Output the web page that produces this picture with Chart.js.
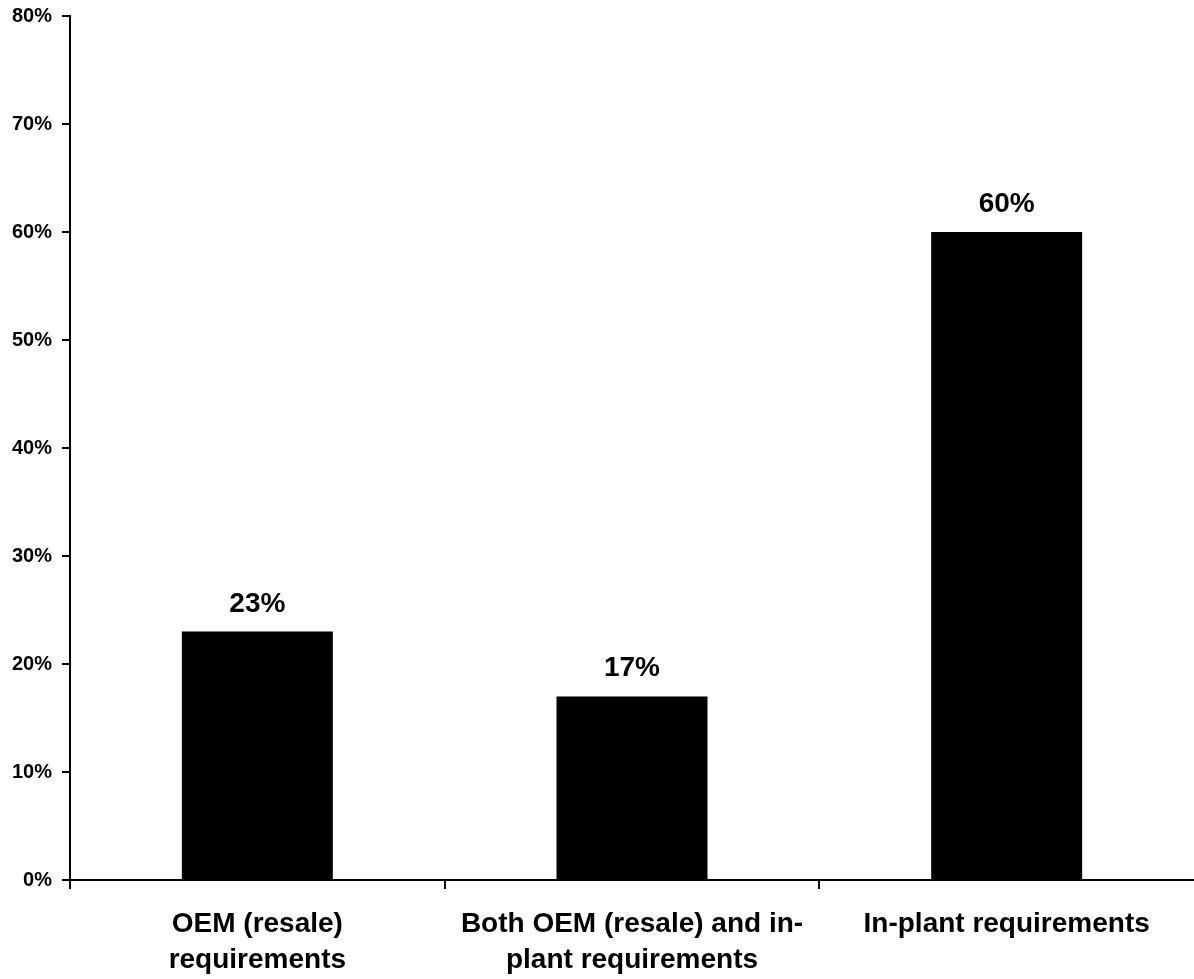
<!DOCTYPE html>
<html>
<head>
<meta charset="utf-8">
<script src="https://cdn.jsdelivr.net/npm/chart.js@4.4.1/dist/chart.umd.min.js"></script>
<style>
  html, body { margin: 0; padding: 0; background: #ffffff; overflow: hidden; }
  canvas { display: block; }
</style>
</head>
<body>
<canvas id="chart" width="1194" height="979"></canvas>
<script>
// Categories (multi-line labels) and their share of respondents, in percent
const categories = [
  ['OEM (resale)', 'requirements'],
  ['Both OEM (resale) and in-', 'plant requirements'],
  ['In-plant requirements']
];
const shares = [23, 17, 60];

// Value axis range and spacing
const yMin = 0;
const yMax = 80;
const yStep = 10;

const FONT = "'Liberation Sans', Arial, Helvetica, sans-serif";

// Writes the percentage above each bar
const valueLabels = {
  id: 'valueLabels',
  afterDatasetsDraw(chart) {
    const ctx = chart.ctx;
    const meta = chart.getDatasetMeta(0);
    const data = chart.data.datasets[0].data;
    ctx.save();
    ctx.fillStyle = '#000000';
    ctx.font = 'bold 28px ' + FONT;
    ctx.textAlign = 'center';
    ctx.textBaseline = 'alphabetic';
    meta.data.forEach((bar, i) => {
      ctx.fillText(data[i] + '%', bar.x, bar.y - 20);
    });
    ctx.restore();
  }
};

new Chart(document.getElementById('chart'), {
  type: 'bar',
  data: {
    labels: categories,
    datasets: [{
      data: shares,
      backgroundColor: '#000000',
      borderWidth: 0,
      barPercentage: 0.403,
      categoryPercentage: 1.0
    }]
  },
  options: {
    responsive: false,
    animation: false,
    events: [],
    layout: { padding: { top: 16, right: 0, bottom: 0, left: 0 } },
    plugins: {
      legend: { display: false },
      tooltip: { enabled: false },
      title: { display: false }
    },
    scales: {
      x: {
        offset: true,
        grid: {
          offset: true,
          drawOnChartArea: false,
          drawTicks: true,
          tickLength: 9,
          lineWidth: 2,
          color: (c) => (c.type === 'tick' ? '#000000' : 'rgba(0,0,0,0)')
        },
        border: { display: true, color: '#000000', width: 2 },
        ticks: {
          color: '#000000',
          maxRotation: 0,
          autoSkip: false,
          padding: 17,
          font: { family: FONT, size: 28, weight: 'bold', lineHeight: 1.3 }
        },
        afterFit(scale) { scale.height = 99; }
      },
      y: {
        min: yMin,
        max: yMax,
        grid: {
          drawOnChartArea: false,
          drawTicks: true,
          tickLength: 8,
          lineWidth: 2,
          color: '#000000'
        },
        border: { display: true, color: '#000000', width: 2 },
        ticks: {
          stepSize: yStep,
          color: '#000000',
          padding: 10,
          font: { family: FONT, size: 20, weight: 'bold' },
          callback: (v) => v + '%'
        },
        afterFit(scale) {
          scale.width = 70;
          scale.paddingTop = 0;
          scale.paddingBottom = 0;
        }
      }
    }
  },
  plugins: [valueLabels]
});
</script>
</body>
</html>
